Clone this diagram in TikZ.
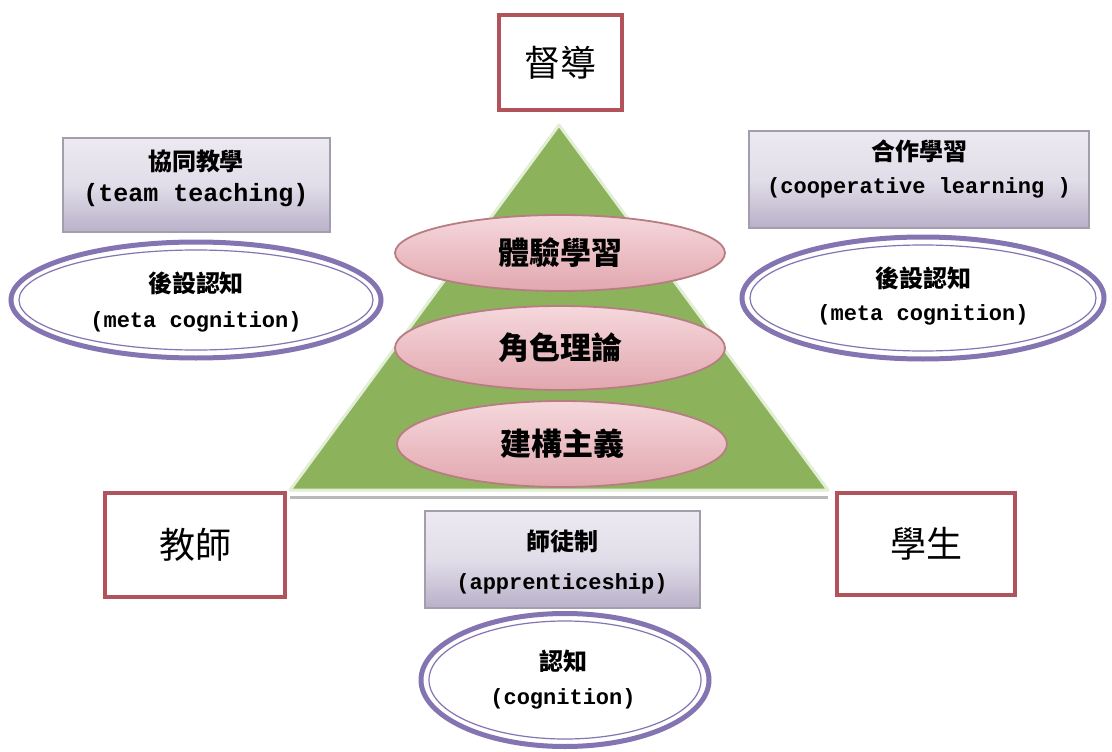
\documentclass[tikz,border=0pt]{standalone}
\usepackage{fontspec}
\setmainfont{Liberation Mono}
\newfontfamily\cjk{Noto Sans CJK TC}
\usetikzlibrary{shapes.geometric}
\definecolor{redb}{HTML}{B2525B}
\definecolor{purb}{HTML}{8574B2}
\definecolor{lavtop}{HTML}{ECE9F1}
\definecolor{lavbot}{HTML}{B9B1C9}
\definecolor{lavedge}{HTML}{A39DAE}
\definecolor{pinktop}{HTML}{F5D8DC}
\definecolor{pinkbot}{HTML}{E2A7AF}
\definecolor{pinkedge}{HTML}{B87C83}
\definecolor{trigreen}{HTML}{8CB35C}
\definecolor{triedge}{HTML}{E3EED6}
\tikzset{
  redbox/.style={draw=redb, line width=4pt, fill=white, rectangle, inner sep=0pt},
  lavbox/.style={draw=lavedge, line width=2pt, rectangle, inner sep=0pt, top color=lavtop, bottom color=lavbot, middle color=lavtop!80!lavbot},
  purell/.style={draw=purb, line width=5pt, ellipse, fill=white, inner sep=0pt},
  pinkell/.style={draw=pinkedge, line width=1.8pt, ellipse, inner sep=0pt, top color=pinktop, bottom color=pinkbot},
  bigtxt/.style={font=\cjk\fontsize{36}{40}\selectfont},
  pinktxt/.style={font=\cjk\bfseries\fontsize{31}{34}\selectfont},
  twoline/.style={align=center, inner sep=0pt, font=\bfseries\fontsize{22}{33}\selectfont},
}
\newcommand\zh[1]{{\cjk\bfseries\fontsize{24}{33}\selectfont #1}}
\begin{document}
\begin{tikzpicture}[x=1pt,y=-1pt]
\useasboundingbox (0,0) rectangle (1112,752);
% triangle
\coordinate (apex) at (559,125);
\coordinate (bl) at (290,490);
\coordinate (br) at (828,490);
\draw[gray!55, line width=3pt] ([yshift=-7pt]bl) -- ([yshift=-7pt]br);
\filldraw[fill=trigreen, draw=triedge, line width=3pt, line join=round] (apex) -- (bl) -- (br) -- cycle;
% pink ellipses
\node[pinkell, minimum width=330pt, minimum height=76pt] (e1) at (560,253) {};
\node[pinkell, minimum width=330pt, minimum height=84pt] (e2) at (560,348) {};
\node[pinkell, minimum width=330pt, minimum height=86pt] (e3) at (562,444) {};
\node[pinktxt] (t1) at (e1.center) {體驗學習};
\node[pinktxt] (t2) at (e2.center) {角色理論};
\node[pinktxt] (t3) at (e3.center) {建構主義};
% red boxes
\node[redbox, minimum width=123pt, minimum height=95pt] (top) at (560.5,62.5) {};
\node[bigtxt] (topt) at (top.center) {督導};
\node[redbox, minimum width=180pt, minimum height=104pt] (teach) at (195,545) {};
\node[bigtxt] (teacht) at (teach.center) {教師};
\node[redbox, minimum width=178pt, minimum height=102pt] (stud) at (926,544) {};
\node[bigtxt] (studt) at (stud.center) {學生};
% lavender boxes
\node[lavbox, minimum width=267pt, minimum height=94pt] (lb) at (196,185) {};
\node[twoline, font=\bfseries\fontsize{25}{31}\selectfont] (lbt) at (196,178) {\zh{協同教學}\\(team teaching)};
\node[lavbox, minimum width=340pt, minimum height=97pt] (rb) at (919,179) {};
\node[twoline] (rbt) at (919,169) {\zh{合作學習}\\(cooperative learning )};
\node[lavbox, minimum width=275pt, minimum height=97pt] (bb) at (562,559) {};
\node[twoline, font=\bfseries\fontsize{22}{39}\selectfont] (bbt) at (562,562) {\zh{師徒制}\\(apprenticeship)};
% purple ellipses
\node[purell, minimum width=370pt, minimum height=116pt] (le) at (196,300) {};
\draw[purb, line width=1.2pt] (le.center) ellipse [x radius=177pt, y radius=50pt];
\node[twoline, font=\bfseries\fontsize{22}{35}\selectfont] (let) at (196,302) {\zh{後設認知}\\(meta cognition)};
\node[purell, minimum width=362pt, minimum height=122pt] (re) at (923,298) {};
\draw[purb, line width=1.2pt] (re.center) ellipse [x radius=173pt, y radius=53pt];
\node[twoline] (ret) at (923,296) {\zh{後設認知}\\(meta cognition)};
\node[purell, minimum width=288pt, minimum height=133pt] (be) at (565,680) {};
\draw[purb, line width=1.2pt] (be.center) ellipse [x radius=136pt, y radius=59pt];
\node[twoline, font=\bfseries\fontsize{22}{34}\selectfont] (bet) at (563,680) {\zh{認知}\\(cognition)};
\end{tikzpicture}
\end{document}
